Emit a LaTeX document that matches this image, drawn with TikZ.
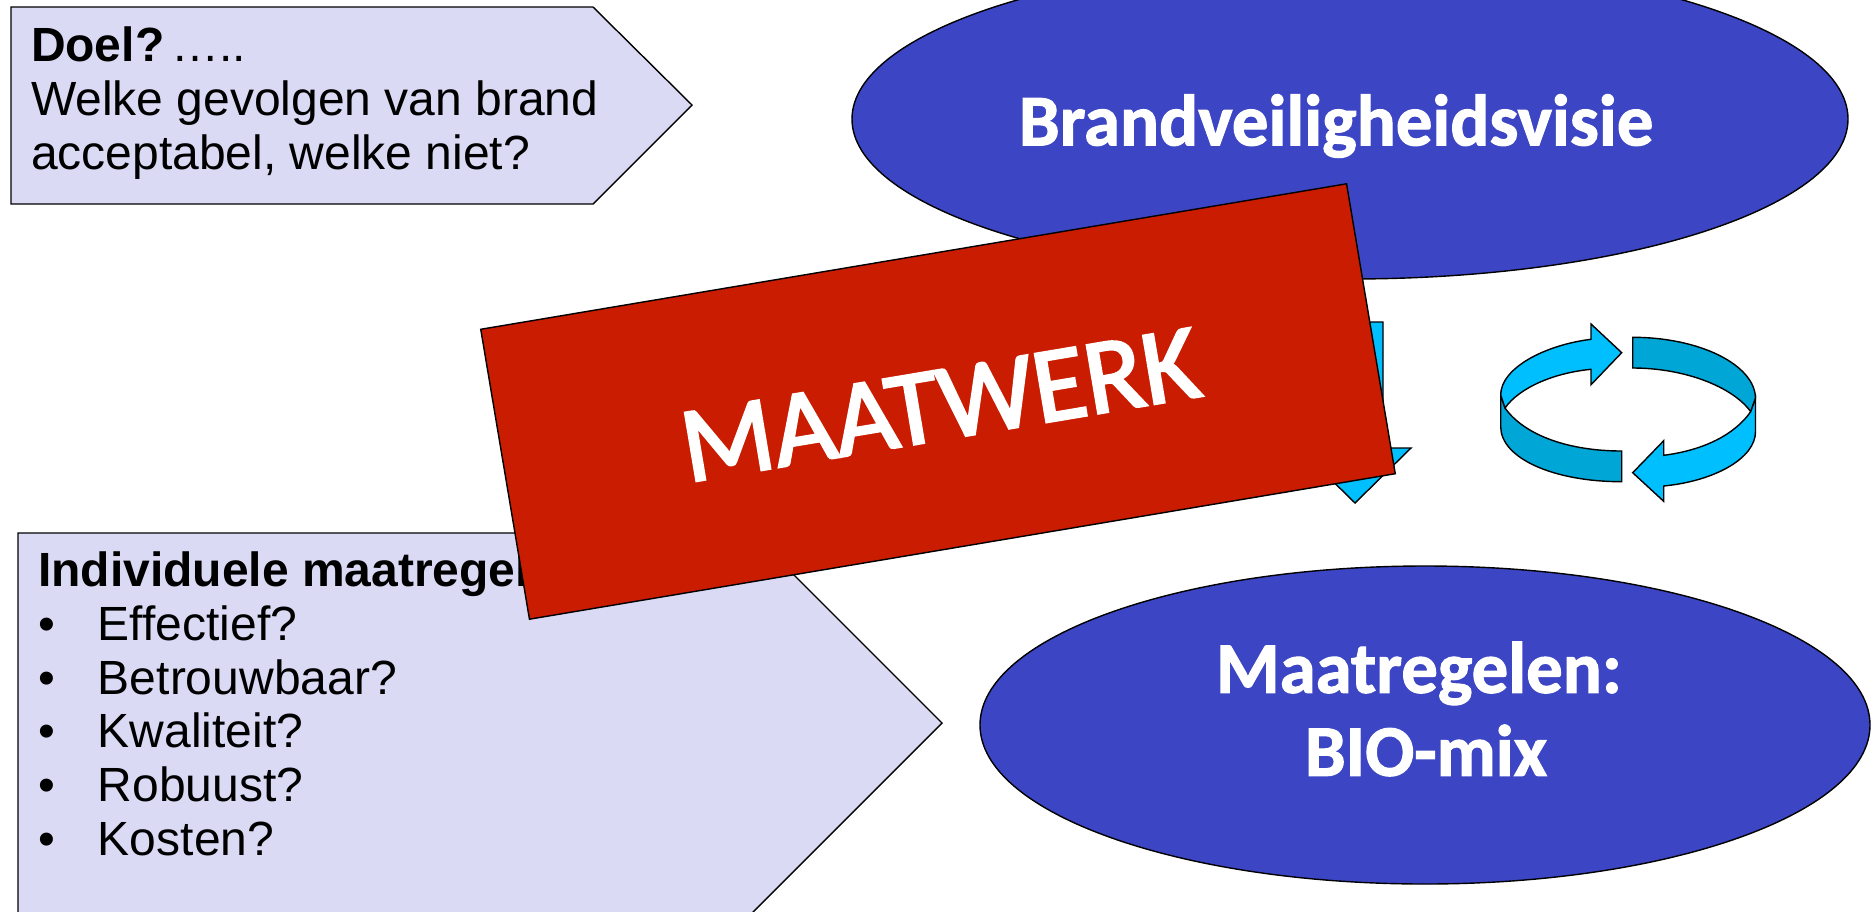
\documentclass[tikz,border=0pt]{standalone}
\usepackage{fontspec}
\setmainfont{Liberation Sans}
\newfontfamily\calib{Carlito}
\usetikzlibrary{shapes.geometric}
\definecolor{boxfill}{HTML}{DADAF5}
\definecolor{ellfill}{HTML}{3C46C4}
\definecolor{redfill}{HTML}{C91C00}
\definecolor{lightarrow}{HTML}{00BFFF}
\definecolor{darkarrow}{HTML}{00A6D6}
\tikzset{
  x=1pt,y=-1pt,
  outline/.style={draw=black,line width=1.4pt,line join=miter},
  pentbox/.style={outline,fill=boxfill},
  boxtext/.style={anchor=north west,inner sep=0pt,outer sep=0pt,align=left,text=black,font=\fontsize{48}{53.7}\selectfont},
  bigell/.style={ellipse,outline,fill=ellfill,inner sep=0pt,outer sep=0pt},
  elltext/.style={inner sep=0pt,outer sep=0pt,align=center,text=white,font=\calib\bfseries\fontsize{72.8}{83}\selectfont\addfontfeature{FakeBold=1.5}},
  redtext/.style={inner sep=0pt,outer sep=0pt,rotate=9.54,text=white,font=\calib\fontsize{107.5}{120}\selectfont\addfontfeature{FakeBold=2.5}},
  arrowlight/.style={outline,fill=lightarrow},
  arrowdark/.style={outline,fill=darkarrow},
}
\begin{document}
\begin{tikzpicture}
\useasboundingbox (0,0) rectangle (1871,911);
\clip (0,0) rectangle (1871,911);
% upper pentagon
\draw[pentbox] (11,7) -- (593,7) -- (692,105) -- (593,204) -- (11,204) -- cycle;
\node[boxtext] (doel) at (31,27) {\textbf{Doel?}\kern7pt…..\\Welke gevolgen van brand\\acceptabel, welke niet?};
% lower pentagon
\draw[pentbox] (18,533) -- (752,533) -- (942,723) -- (752,913) -- (18,913) -- cycle;
\node[boxtext] (indiv) at (38,552) {\textbf{Individuele maatregel}\\
\makebox[60pt][l]{•}Effectief?\\
\makebox[60pt][l]{•}Betrouwbaar?\\
\makebox[60pt][l]{•}Kwaliteit?\\
\makebox[60pt][l]{•}Robuust?\\
\makebox[60pt][l]{•}Kosten?};
% ellipses
\node[bigell,minimum width=996pt,minimum height=320pt] (visie) at (1350,119) {};
\node[elltext] (visietext) at (1336,126) {Brandveiligheidsvisie};
\node[bigell,minimum width=890pt,minimum height=318pt] (mix) at (1425,725) {};
\node[elltext] (mixtext) at (1426,709) {Maatregelen:\kern14pt\\BIO-mix};
% straight arrow behind the red block
\draw[arrowlight] (1327,322) -- (1383,322) -- (1383,448) -- (1411,448) -- (1355,503) -- (1299,448) -- (1327,448) -- cycle;
% red block
\node[outline,fill=redfill,rotate=9.54,minimum width=878pt,minimum height=294pt,inner sep=0pt,outer sep=0pt] (maatwerk) at (938,401.5) {};
\node[redtext] (maatwerktext) at (940,405) {MAATWERK};
% circular arrow
\draw[arrowdark] (1500.7,395) -- (1500.7,426.7) .. controls (1500.7,458) and (1553,481.7) .. (1621.7,481.7) -- (1621.7,451) .. controls (1570,451) and (1525,436) .. (1505,408) -- cycle;
\draw[arrowdark] (1632.7,337.3) .. controls (1700,337.3) and (1755,365) .. (1755.5,398.3) -- (1750.7,411.7) .. controls (1733,387) and (1685,368) .. (1632.7,368) -- cycle;
\draw[arrowlight] (1621.7,352.7) -- (1591,324) -- (1591,339.3) .. controls (1545,345) and (1500.7,368) .. (1500.7,395) -- (1505,408) .. controls (1519,388) and (1553,373) .. (1591,369.3) -- (1591,384.7) -- cycle;
\draw[arrowlight] (1632.7,472.7) -- (1663.7,440.7) -- (1663.7,455.3) .. controls (1705,450) and (1735,434) .. (1750.7,411.7) -- (1755.5,398.3) -- (1755.5,431.7) .. controls (1755.5,458) and (1715,481) .. (1663.7,486) -- (1663.7,501.3) -- cycle;
\end{tikzpicture}
\end{document}
